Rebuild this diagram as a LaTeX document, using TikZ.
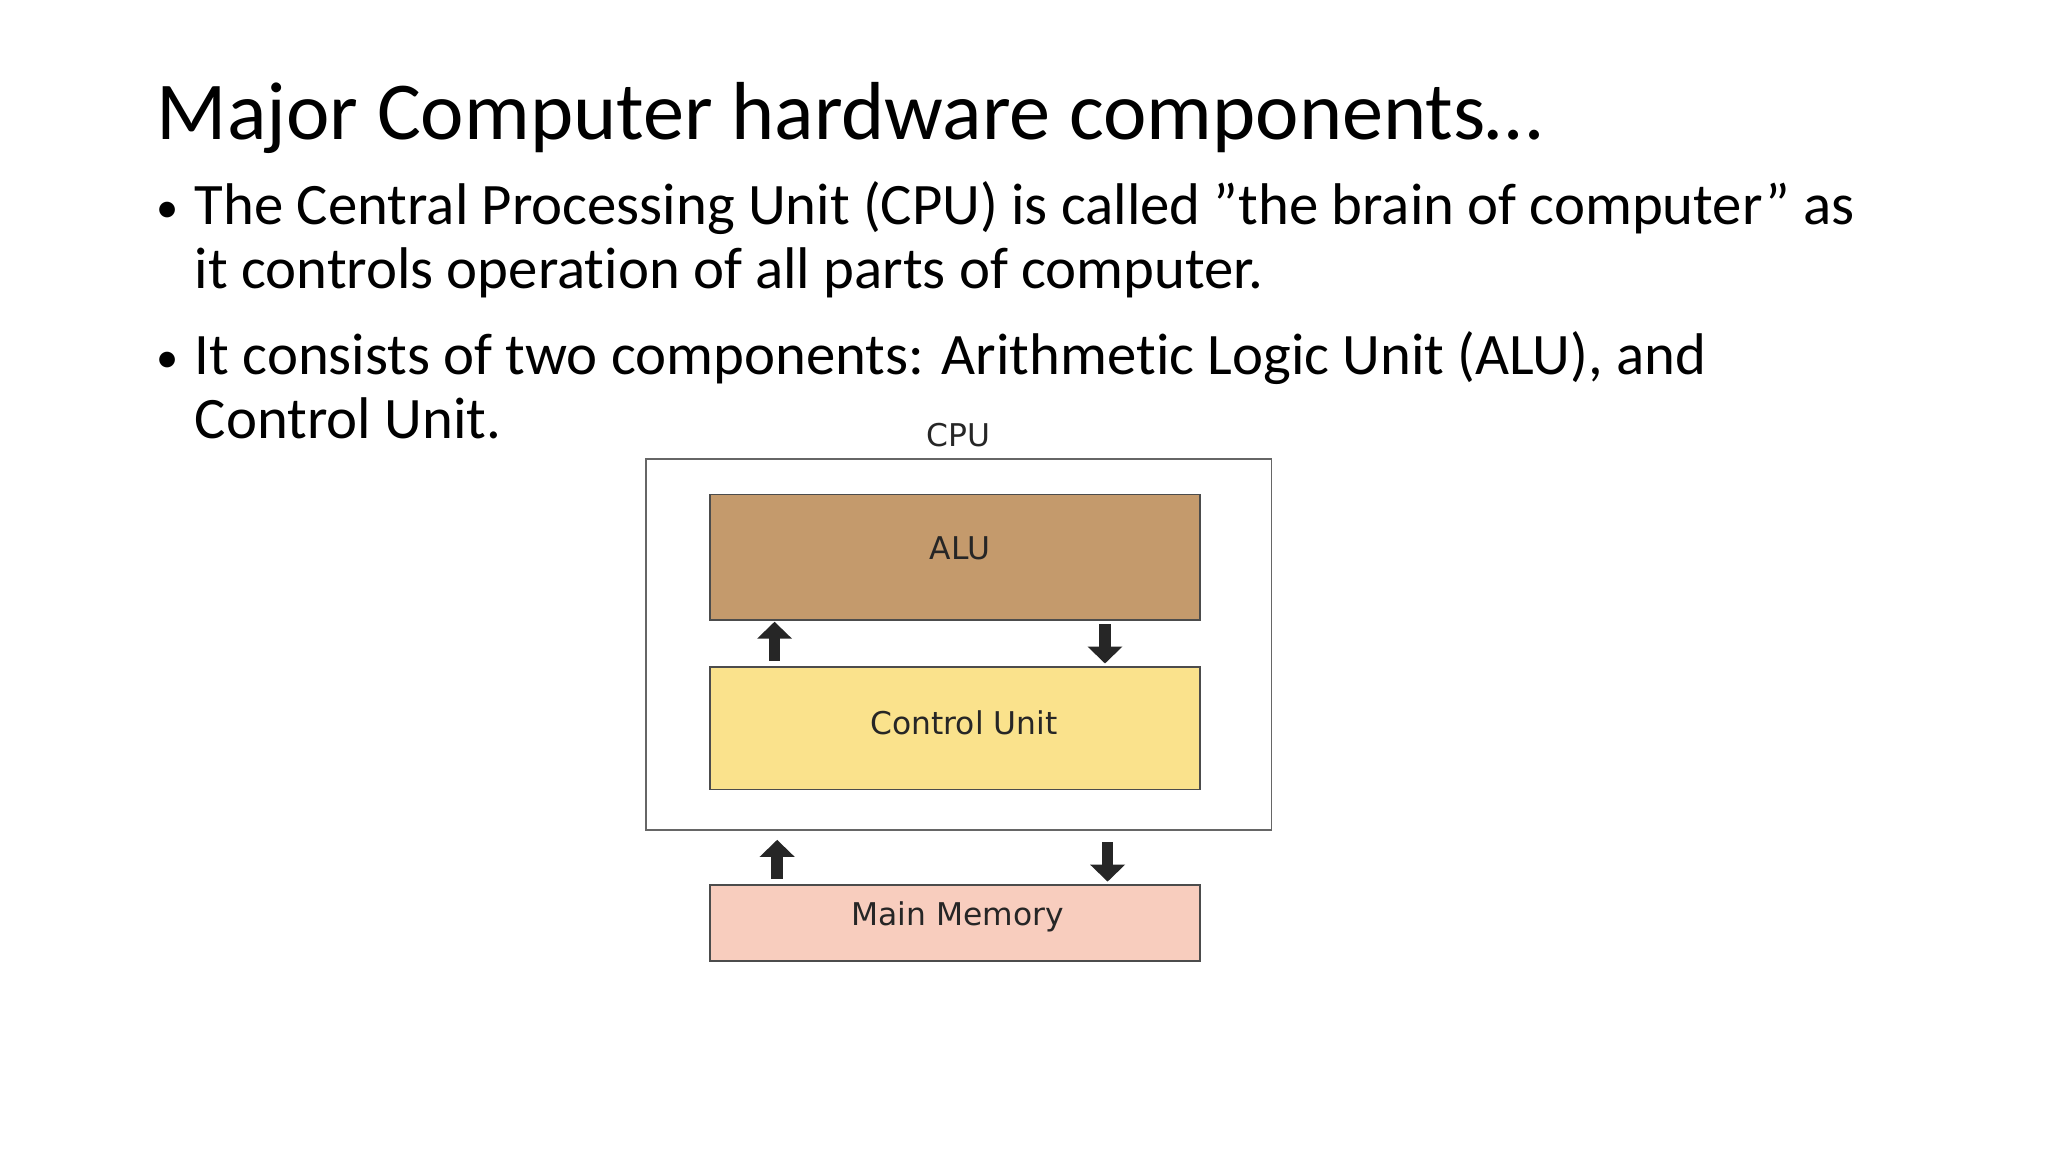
\documentclass[tikz,border=0pt]{standalone}
\usepackage{fontspec}
\setmainfont{Carlito}[Ligatures={NoCommon,TeX}]
\newfontfamily\dg{DejaVu Sans}
\usetikzlibrary{arrows.meta}
\begin{document}
\begin{tikzpicture}[x=1pt,y=-1pt,
  blk/.style={draw=black!70,line width=1.2pt,anchor=north west,inner sep=0pt},
  lbl/.style={font=\dg\fontsize{24}{28}\selectfont,text=black!85},
  body/.style={anchor=base west,inner sep=0pt,font=\fontsize{45}{54}\selectfont},
  bul/.style={anchor=base west,inner sep=0pt,font=\fontsize{34}{40}\selectfont},
  barr/.style={line width=9pt,draw=black!85,-{Triangle[width=26pt,length=13pt]},shorten >=-2pt}]
\useasboundingbox (0,0) rectangle (1568,882);
\node[anchor=base west,inner sep=0pt,font=\fontsize{63}{74}\selectfont] (title) at (120,107) {Major Computer hardware components…};
\node[bul] (b1) at (120,170) {•};
\node[body] (l1) at (149,172) {The Central Processing Unit (CPU) is called \symbol{34}the brain of computer\symbol{34} as};
\node[body] (l2) at (149,221) {it controls operation of all parts of computer.};
\node[bul] (b2) at (120,285) {•};
\node[body] (l3) at (149,287) {It consists of two components: Arithmetic Logic Unit (ALU), and};
\node[body] (l4) at (149,336) {Control Unit.};
\node[blk,draw=black!60,minimum width=479pt,minimum height=284pt] (cpu) at (494,351) {};
\node[lbl] (cpul) at (734,333) {CPU};
\node[blk,fill={rgb,255:red,196;green,154;blue,108},minimum width=375pt,minimum height=96pt] (alu) at (543,378) {};
\node[lbl] at (alu.center) [yshift=7pt,xshift=4pt] {ALU};
\node[blk,fill={rgb,255:red,250;green,226;blue,140},minimum width=375pt,minimum height=94pt] (cu) at (543,510) {};
\node[lbl] at (cu.center) [yshift=4pt,xshift=7pt] {Control Unit};
\node[blk,fill={rgb,255:red,248;green,205;blue,190},minimum width=375pt,minimum height=58pt] (mm) at (543,677) {};
\node[lbl] at (mm.center) [yshift=5pt,xshift=2pt] {Main Memory};
\coordinate (a1s) at (593,506); \coordinate (a1e) at (593,478);
\coordinate (a2s) at (846,478); \coordinate (a2e) at (846,506);
\coordinate (a3s) at (595,673); \coordinate (a3e) at (595,645);
\coordinate (a4s) at (848,645); \coordinate (a4e) at (848,673);
\draw[barr] (a1s) -- (a1e);
\draw[barr] (a2s) -- (a2e);
\draw[barr] (a3s) -- (a3e);
\draw[barr] (a4s) -- (a4e);
\end{tikzpicture}
\end{document}
